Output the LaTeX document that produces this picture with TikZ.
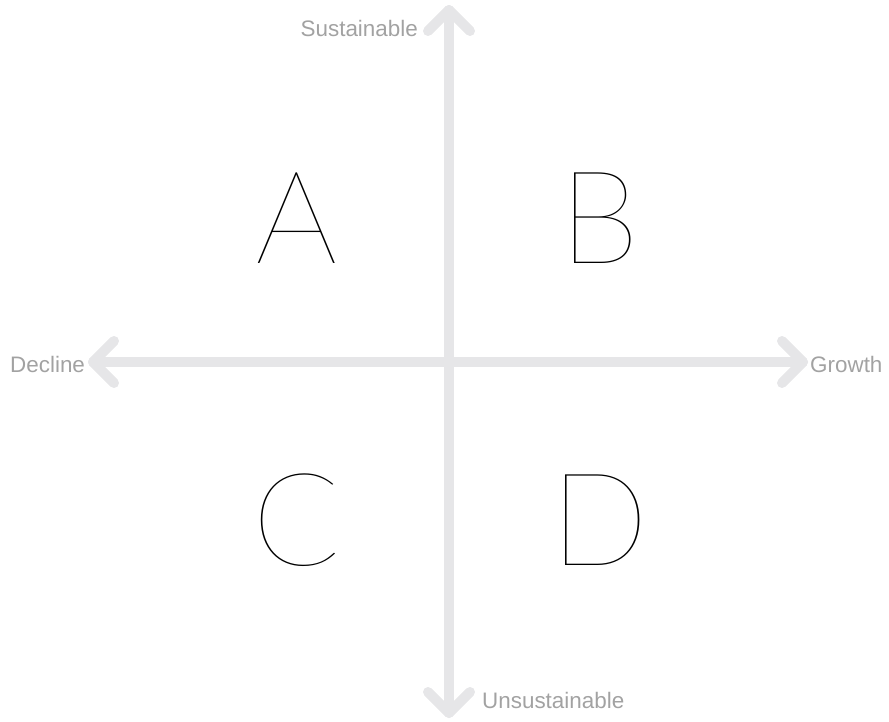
\documentclass[tikz,border=0pt]{standalone}
\usepackage{fontspec}
\usepackage{xcolor}
\setmainfont{Liberation Sans}
\newfontfamily\letterfont{Lato Thin}
\definecolor{axisgray}{HTML}{E6E6E8}
\definecolor{labelgray}{HTML}{A2A2A2}
\begin{document}
\begin{tikzpicture}[x=1bp,y=-1bp,
  axis/.style={draw=axisgray, line width=10bp, line cap=round, line join=round},
  axislabel/.style={inner sep=0pt, text=labelgray, font=\fontsize{22.5}{22.5}\selectfont},
  quadrant/.style={inner sep=0pt, anchor=base, font=\letterfont\fontsize{130}{130}\selectfont}]
\useasboundingbox (0,0) rectangle (889,722);
\coordinate (top) at (449,10);
\coordinate (bottom) at (449,713);
\coordinate (left) at (93,362);
\coordinate (right) at (803,362);
\draw[axis] (top) -- (bottom);
\draw[axis] (left) -- (right);
\draw[axis] (top) ++(-21,21) -- (top) -- ++(21,21);
\draw[axis] (bottom) ++(-21,-21) -- (bottom) -- ++(21,-21);
\draw[axis] (left) ++(21,-21) -- (left) -- ++(21,21);
\draw[axis] (right) ++(-21,-21) -- (right) -- ++(-21,21);
\node[axislabel, anchor=base east](sust) at (418,37){Sustainable};
\node[axislabel, anchor=base west](unsust) at (482,708){Unsustainable};
\node[axislabel, anchor=base west](decline) at (10,372){Decline};
\node[axislabel, anchor=base west](growth) at (810,372){Growth};
\node[quadrant](a) at (297,263){A};
\node[quadrant](b) at (600,263){B};
\node[quadrant](c) at (297,565){C};
\node[quadrant](d) at (600,565){D};
\end{tikzpicture}
\end{document}
